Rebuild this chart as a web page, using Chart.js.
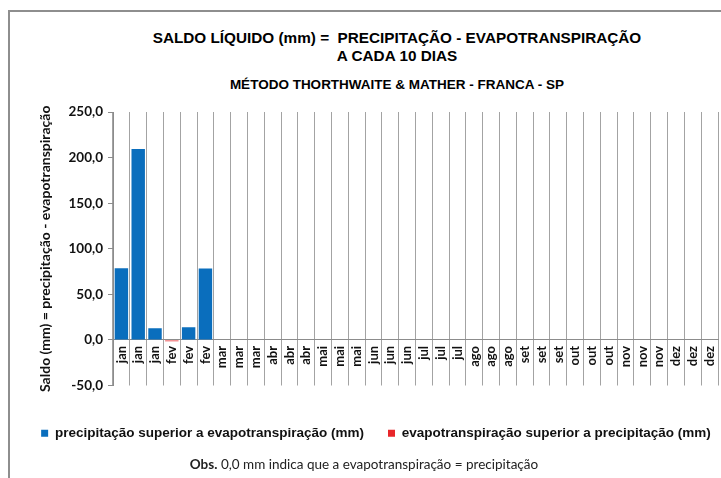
<!DOCTYPE html>
<html>
<head>
<meta charset="utf-8">
<script src="https://cdn.jsdelivr.net/npm/chart.js@4.4.1/dist/chart.umd.min.js"></script>
<style>
  html, body { margin: 0; padding: 0; background: #fff; overflow: hidden; width: 721px; height: 478px; }
  #frame { position: absolute; left: 8px; top: 10px; width: 800px; height: 520px; border-left: 2px solid #8e8e8e; border-top: 2px solid #8e8e8e; }
  #box { position: absolute; left: 10px; top: 12px; width: 732px; height: 466px; }
  .ttl { position: absolute; left: 0; width: 794px; text-align: center; font-family: "Liberation Sans", Arial, sans-serif; font-weight: bold; color: #000; white-space: pre; }
  #t1 { top: 29px; font-size: 15.3px; line-height: 18px; }
  #t2 { top: 77px; font-size: 13.5px; line-height: 16px; }
  #obs { position: absolute; left: 0; width: 728px; top: 456px; text-align: center; font-family: Lato, sans-serif; font-size: 13.5px; color: #222; }
</style>
</head>
<body>
<div id="frame"></div>
<div class="ttl" id="t1">SALDO LÍQUIDO (mm) =  PRECIPITAÇÃO - EVAPOTRANSPIRAÇÃO
A CADA 10 DIAS</div>
<div class="ttl" id="t2">MÉTODO THORTHWAITE &amp; MATHER - FRANCA - SP</div>
<div id="box"><canvas id="saldoChart"></canvas></div>
<div id="obs"><b>Obs.</b> 0,0 mm indica que a evapotranspiração = precipitação</div>
<script>
// decêndios: 3 por mês
const months = ['jan', 'fev', 'mar', 'abr', 'mai', 'jun', 'jul', 'ago', 'set', 'out', 'nov', 'dez'];
const labels = [];
months.forEach(m => { labels.push(m, m, m); });

// saldo positivo (precipitação > evapotranspiração), mm
const saldoPositivo = [78.5, 209.5, 12.8, 0, 13.8, 78.4,
    0, 0, 0, 0, 0, 0, 0, 0, 0, 0, 0, 0, 0, 0, 0, 0, 0, 0, 0, 0, 0, 0, 0, 0, 0, 0, 0, 0, 0, 0];
// saldo negativo (evapotranspiração > precipitação), mm
const saldoNegativo = [0, 0, 0, -1.5, 0, 0,
    0, 0, 0, 0, 0, 0, 0, 0, 0, 0, 0, 0, 0, 0, 0, 0, 0, 0, 0, 0, 0, 0, 0, 0, 0, 0, 0, 0, 0, 0];

const yMin = -50, yMax = 250, yStep = 50;

const gridColor = '#a3a3a3';
const axisColor = '#8c8c8c';

const canvas = document.getElementById('saldoChart');
canvas.width = 732;
canvas.height = 466;

new Chart(canvas, {
    type: 'bar',
    data: {
        labels,
        datasets: [
            { label: 'precipitação superior a evapotranspiração (mm)', data: saldoPositivo, backgroundColor: '#0a6ebd', borderWidth: 0 },
            { label: 'evapotranspiração superior a precipitação (mm)', data: saldoNegativo, backgroundColor: '#e8262a', borderWidth: 0 }
        ]
    },
    options: {
        responsive: false, animation: false,
        categoryPercentage: 0.8, barPercentage: 1,
        layout: { padding: { top: 100, bottom: 28, left: 0, right: 0 } },
        plugins: {
            title: { display: false },
            tooltip: { enabled: false },
            legend: {
                position: 'bottom',
                labels: {
                    boxWidth: 7, boxHeight: 7, padding: 24,
                    color: '#111',
                    font: { family: 'Liberation Sans', weight: 'bold', size: 13.5 }
                }
            }
        },
        scales: {
            x: {
                stacked: true,
                position: { y: 0 },
                grid: { color: gridColor, drawTicks: false, offset: true },
                border: { color: axisColor },
                ticks: {
                    autoSkip: false, minRotation: 90, maxRotation: 90, padding: 6,
                    color: '#111',
                    font: { family: 'Lato', weight: 'bold', size: 13 }
                }
            },
            y: {
                stacked: true,
                min: yMin, max: yMax,
                grid: { drawOnChartArea: false, tickLength: 5, color: axisColor },
                border: { color: axisColor },
                ticks: {
                    stepSize: yStep, padding: 5,
                    color: '#111',
                    font: { family: 'Lato', weight: 'bold', size: 13.5 },
                    callback: (v) => v.toFixed(1).replace('.', ',')
                },
                title: {
                    display: true,
                    text: 'Saldo (mm) = precipitação - evapotranspiração',
                    color: '#111',
                    font: { family: 'Lato', weight: 'bold', size: 14 },
                    padding: { top: 27, bottom: 0 }
                },
                afterFit: (s) => { s.width = 103; }
            },
            r: {
                type: 'linear', position: 'right', display: true,
                grid: { display: false }, ticks: { display: false }, border: { display: false },
                afterFit: (s) => { s.width = 24; }
            },
            gap: {
                type: 'linear', position: 'bottom', display: true,
                grid: { display: false }, ticks: { display: false }, border: { display: false },
                afterFit: (s) => { s.height = 17; }
            }
        }
    }
});
</script>
</body>
</html>
